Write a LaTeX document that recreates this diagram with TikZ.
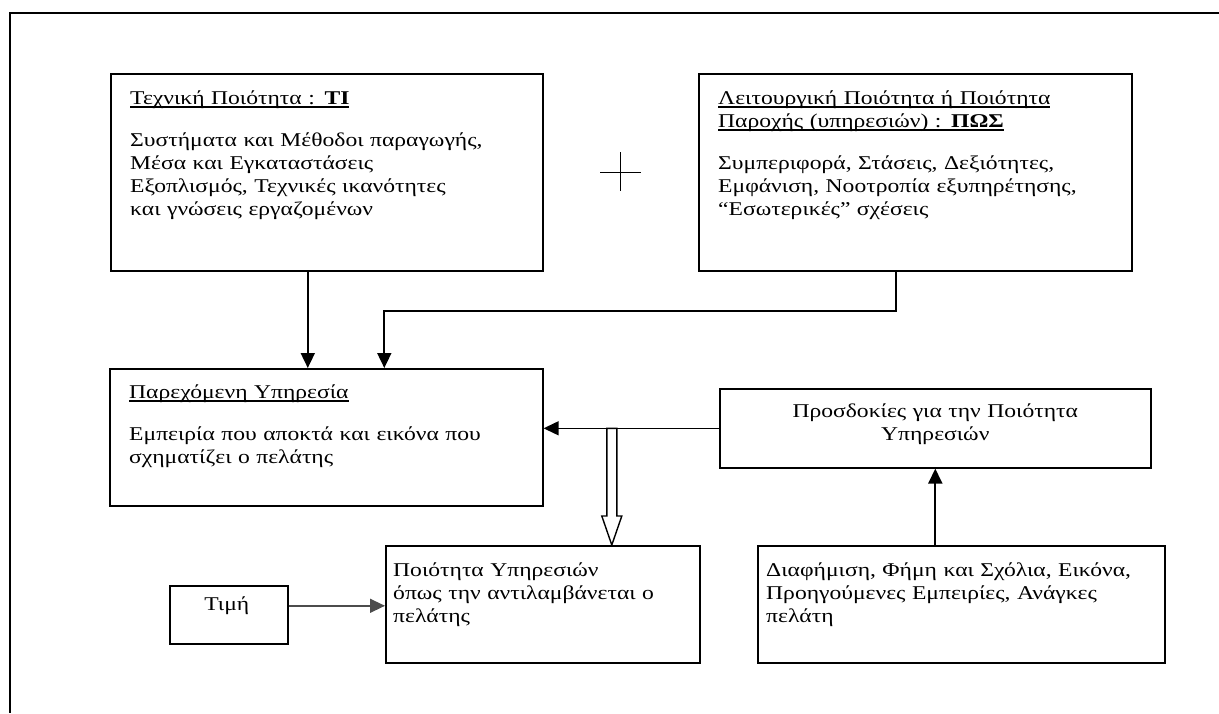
\documentclass[tikz,border=0pt]{standalone}
\usepackage{fontspec}
\setmainfont{Liberation Serif}[FakeStretch=1.21]
\usetikzlibrary{arrows.meta,calc}
\newsavebox\undlbox
\newcommand\undl[1]{\leavevmode\sbox\undlbox{#1}\rlap{\rule[-3.6pt]{\wd\undlbox}{1.3pt}}\usebox\undlbox}
\begin{document}
\begin{tikzpicture}[x=1pt,y=-1pt,
box/.style={draw,line width=1.6pt,anchor=north west,inner sep=0pt},
txt/.style={anchor=base west,align=left,inner sep=0pt,font=\fontsize{19.5}{23}\selectfont},
flow/.style={-{Triangle[length=15pt,width=14pt]},line width=1.8pt},
hollow/.style={draw,fill=white,line width=1.4pt,line join=miter}]
\useasboundingbox (0,0) rectangle (1219,713);
\draw[line width=1.6pt] (1219,13) -- (10,13) -- (10,713);
\draw[line width=0.8pt] (600,172) -- (641,172) (620,152) -- (620,191);

\node[box,minimum width=432,minimum height=197] (ti) at (110,73) {};
\node[box,minimum width=433,minimum height=197] (pos) at (698,73) {};
\node[box,minimum width=433,minimum height=137] (served) at (109,368) {};
\node[box,minimum width=431,minimum height=79] (expect) at (719,388) {};
\node[box,minimum width=314,minimum height=117] (quality) at (385,545) {};
\node[box,minimum width=118,minimum height=58] (price) at (169,585) {};
\node[box,minimum width=407,minimum height=117] (media) at (757,545) {};

\node[txt,text width=410] (ti text) at ($(ti.north west)+(20,31)$) {\undl{Τεχνική Ποιότητα : \textbf{ΤΙ}}\\[19pt]Συστήματα και Μέθοδοι παραγωγής,\\Μέσα και Εγκαταστάσεις\\Εξοπλισμός, Τεχνικές ικανότητες\\και γνώσεις εργαζομένων};
\node[txt,text width=410] (pos text) at ($(pos.north west)+(20,31)$) {\undl{Λειτουργική Ποιότητα ή Ποιότητα}\\\undl{Παροχής (υπηρεσιών) : \textbf{ΠΩΣ}}\\[19pt]Συμπεριφορά, Στάσεις, Δεξιότητες,\\Εμφάνιση, Νοοτροπία εξυπηρέτησης,\\“Εσωτερικές” σχέσεις};
\node[txt,text width=410] (served text) at ($(served.north west)+(20,30)$) {\undl{Παρεχόμενη Υπηρεσία}\\[19pt]Εμπειρία που αποκτά και εικόνα που\\σχηματίζει ο πελάτης};
\node[txt,text width=431,anchor=base,align=center] (expect text) at ($(expect.north)+(0,29)$) {Προσδοκίες για την Ποιότητα\\Υπηρεσιών};
\node[txt,text width=305] (quality text) at ($(quality.north west)+(8,31)$) {Ποιότητα Υπηρεσιών\\όπως την αντιλαμβάνεται ο\\πελάτης};
\node[txt,anchor=base] (price text) at ($(price.north)+(-2,25)$) {Τιμή};
\node[txt,text width=398] (media text) at ($(media.north west)+(9,31)$) {Διαφήμιση, Φήμη και Σχόλια, Εικόνα,\\Προηγούμενες Εμπειρίες, Ανάγκες\\πελάτη};

\path ($(ti.south)+(-19,0)$) coordinate (ti out)
      ($(pos.south)+(-19,0)$) coordinate (pos out)
      ($(served.north)+(58,0)$) coordinate (served in)
      ($(price.east)+(0,-9)$) coordinate (price out)
      ($(quality.north)+(69,0)$) coordinate (tip);
\path (tip |- expect.west) coordinate (fork);
\path (tip) ++(0,-29) coordinate (head);

\draw[flow] (ti out) -- (ti out |- served.north);
\draw[flow] (pos out) -- ++(0,39) -| (served in);
\draw[flow,line width=1.4pt] (expect.west) -- (expect.west -| served.east);
\draw[flow] (media.north -| expect.south) -- (expect.south);
\draw[flow,line width=1.4pt,black!70] (price out) -- (price out -| quality.west);
\draw[hollow] ($(fork)+(-5,0)$) -- ($(head)+(-5,0)$) -- ($(head)+(-10,0)$) -- (tip) -- ($(head)+(10,0)$) -- ($(head)+(5,0)$) -- ($(fork)+(5,0)$) -- cycle;
\end{tikzpicture}
\end{document}
